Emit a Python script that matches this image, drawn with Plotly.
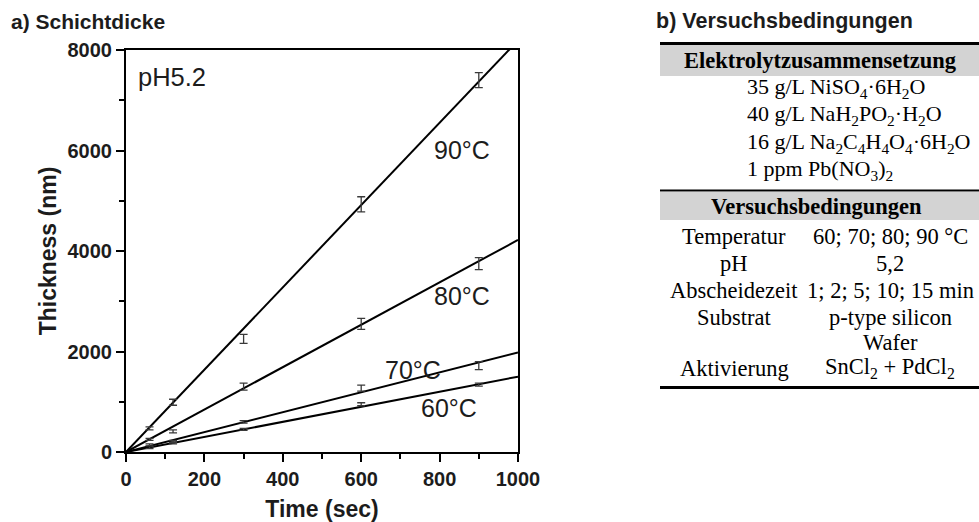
import plotly.graph_objects as go

W, H = 979, 522

# ---- panel a) layer thickness vs. deposition time -------------------------
time_s = [60, 120, 300, 600, 900]

thick_60 = [90, 180, 450, 950, 1340]
err_60 = [20, 20, 20, 30, 30]
thick_70 = [140, 210, 600, 1270, 1720]
err_70 = [20, 20, 25, 60, 80]
thick_80 = [250, 410, 1300, 2550, 3750]
err_80 = [20, 30, 70, 110, 120]
thick_90 = [470, 990, 2250, 4930, 7400]
err_90 = [30, 60, 90, 150, 150]

# linear fits through the origin (thickness at 0 s and 1000 s)
fit_t = [0, 1000]
fit_60 = [0, 1500]
fit_70 = [0, 1980]
fit_80 = [0, 4220]
fit_90 = [0, 8190]

series_names = ["60°C", "70°C", "80°C", "90°C"]
series_vals = [thick_60, thick_70, thick_80, thick_90]
series_errs = [err_60, err_70, err_80, err_90]
series_fits = [fit_60, fit_70, fit_80, fit_90]

x_ticks = [0, 200, 400, 600, 800, 1000]
y_ticks = [0, 2000, 4000, 6000, 8000]

# ---- panel b) experimental conditions -------------------------------------
header_1 = "Elektrolytzusammensetzung"
electrolyte_rows = [
    "35 g/L NiSO<sub>4</sub>·6H<sub>2</sub>O",
    "40 g/L NaH<sub>2</sub>PO<sub>2</sub>·H<sub>2</sub>O",
    "16 g/L Na<sub>2</sub>C<sub>4</sub>H<sub>4</sub>O<sub>4</sub>·6H<sub>2</sub>O",
    "1 ppm Pb(NO<sub>3</sub>)<sub>2</sub>",
]
header_2 = "Versuchsbedingungen"
condition_labels = ["Temperatur", "pH", "Abscheidezeit", "Substrat", "", "Aktivierung"]
condition_values = [
    "60; 70; 80; 90 °C",
    "5,2",
    "1; 2; 5; 10; 15 min",
    "p-type silicon",
    "Wafer",
    "SnCl<sub>2</sub> + PdCl<sub>2</sub>",
]


def px(x):
    return x / W


def py(y):
    return 1 - y / H


SANS = "Liberation Sans, Arial, sans-serif"
SERIF = "Liberation Serif, Times New Roman, serif"
INK = "#1c1c1c"

fig = go.Figure()

for name, vals, errs, fit in zip(series_names, series_vals, series_errs, series_fits):
    fig.add_trace(go.Scatter(
        x=fit_t, y=fit, mode="lines", name=name,
        line=dict(color="black", width=2), hoverinfo="skip",
    ))
    fig.add_trace(go.Scatter(
        x=time_s, y=vals, mode="markers", name=name,
        marker=dict(size=2, color="rgba(0,0,0,0)"),
        error_y=dict(type="data", array=errs, visible=True,
                     color="#3a3a3a", thickness=1.3, width=4),
    ))

axis_common = dict(
    automargin=False,
    showline=True, linecolor="black", linewidth=2, mirror=True,
    ticks="outside", tickcolor="black", tickwidth=2, ticklen=8,
    showgrid=False, zeroline=False,
    tickfont=dict(family=SANS, size=20, color=INK, weight="bold"),
)

fig.update_layout(
    width=W, height=H,
    margin=dict(l=0, r=0, t=0, b=0, autoexpand=False),
    paper_bgcolor="white", plot_bgcolor="white",
    showlegend=False,
    font=dict(family=SANS, color=INK),
    xaxis=dict(
        domain=[px(126), px(518)], range=[0, 1000], tickvals=x_ticks,
        minor=dict(dtick=100, ticks="outside", ticklen=5, tickwidth=2,
                   tickcolor="black", showgrid=False),
        title=dict(text="Time (sec)", standoff=12,
                   font=dict(family=SANS, size=23, color=INK, weight="bold")),
        **axis_common,
    ),
    yaxis=dict(
        domain=[py(452), py(50)], range=[0, 8000], tickvals=y_ticks,
        minor=dict(dtick=1000, ticks="outside", ticklen=5, tickwidth=2,
                   tickcolor="black", showgrid=False),
        title=dict(text="Thickness (nm)", standoff=4,
                   font=dict(family=SANS, size=23, color=INK, weight="bold")),
        **axis_common,
    ),
)

annotations = []

# panel titles
annotations.append(dict(text="<b>a) Schichtdicke</b>", xref="paper", yref="paper",
                        x=px(9), y=py(21), xanchor="left", yanchor="middle",
                        showarrow=False, font=dict(family=SANS, size=21, color=INK)))
annotations.append(dict(text="<b>b) Versuchsbedingungen</b>", xref="paper", yref="paper",
                        x=px(654), y=py(21), xanchor="left", yanchor="middle",
                        showarrow=False, font=dict(family=SANS, size=21.5, color=INK)))

# in-plot labels
annotations.append(dict(text="pH5.2", xref="x", yref="y", x=25, y=7460,
                        xanchor="left", yanchor="middle", showarrow=False,
                        font=dict(family=SANS, size=25.5, color=INK)))
label_pos = {"90°C": (856, 6010), "80°C": (856, 3095), "70°C": (733, 1625), "60°C": (825, 875)}
for name in series_names:
    lx, ly = label_pos[name]
    annotations.append(dict(text=name, xref="x", yref="y", x=lx, y=ly,
                            xanchor="center", yanchor="middle", showarrow=False,
                            font=dict(family=SANS, size=25, color=INK)))

# table
TBL_L, TBL_R = 660, 979
COL1, COL2 = 734, 890
shapes = []
shapes.append(dict(type="rect", xref="paper", yref="paper", layer="below",
                   x0=px(TBL_L), x1=px(TBL_R), y0=py(76), y1=py(45),
                   fillcolor="#d3d3d3", line=dict(width=0)))
shapes.append(dict(type="rect", xref="paper", yref="paper", layer="below",
                   x0=px(TBL_L), x1=px(TBL_R), y0=py(220), y1=py(192),
                   fillcolor="#d3d3d3", line=dict(width=0)))
for yy, lw in [(43.5, 3), (190.5, 2), (387.5, 3)]:
    shapes.append(dict(type="line", xref="paper", yref="paper",
                       x0=px(TBL_L), x1=px(TBL_R), y0=py(yy), y1=py(yy),
                       line=dict(color="black", width=lw)))

tfont = dict(family=SERIF, size=22.5, color="black")
annotations.append(dict(text="<b>" + header_1 + "</b>", xref="paper", yref="paper",
                        x=px(820), y=py(61), xanchor="center", yanchor="middle",
                        showarrow=False, font=tfont))
for i, row in enumerate(electrolyte_rows):
    annotations.append(dict(text=row, xref="paper", yref="paper",
                            x=px(745), y=py(88 + 27.3 * i), xanchor="left", yanchor="middle",
                            showarrow=False, font=dict(family=SERIF, size=22, color="black")))
annotations.append(dict(text="<b>" + header_2 + "</b>", xref="paper", yref="paper",
                        x=px(816), y=py(206), xanchor="center", yanchor="middle",
                        showarrow=False, font=tfont))
row_y = [236, 263, 290, 317, 342, 368]
for lab, val, yy in zip(condition_labels, condition_values, row_y):
    if lab:
        annotations.append(dict(text=lab, xref="paper", yref="paper",
                                x=px(COL1), y=py(yy), xanchor="center", yanchor="middle",
                                showarrow=False, font=tfont))
    annotations.append(dict(text=val, xref="paper", yref="paper",
                            x=px(COL2), y=py(yy), xanchor="center", yanchor="middle",
                            showarrow=False, font=tfont))

fig.update_layout(annotations=annotations, shapes=shapes)

fig.write_html("out.html")
